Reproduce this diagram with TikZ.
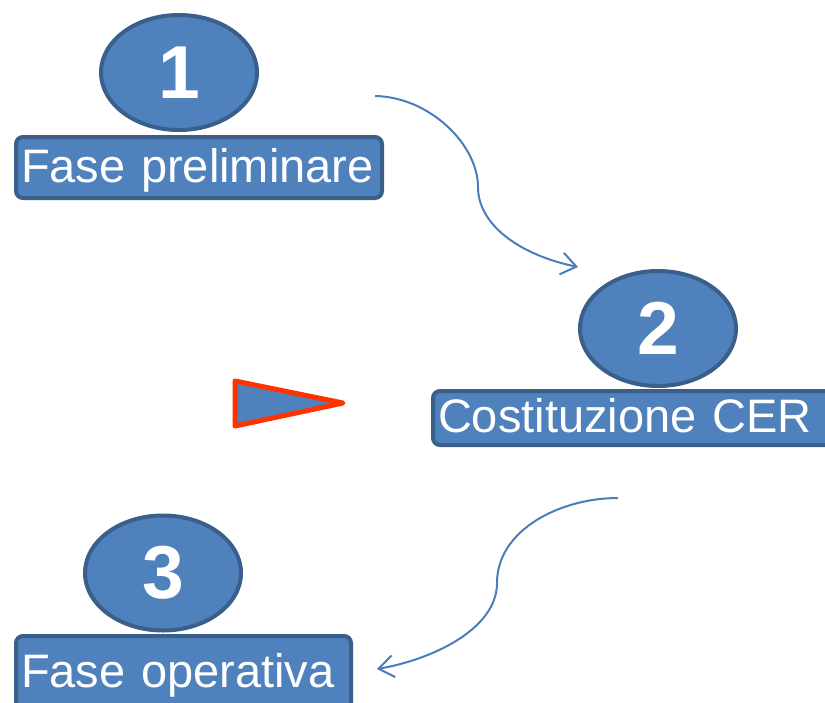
\documentclass[tikz,border=0pt]{standalone}
\usepackage{fontspec}
\setmainfont{Liberation Sans}
\usetikzlibrary{arrows.meta}
\usetikzlibrary{shapes.geometric}
\definecolor{phasefill}{HTML}{4F81BD}
\definecolor{phaseline}{HTML}{3A5F8B}
\definecolor{flowline}{HTML}{4A7EBB}
\definecolor{markred}{HTML}{FF3300}
\tikzset{num/.style = {ellipse, fill = phasefill, draw = phaseline, line width = 4, inner sep = 0, minimum width = 156, minimum height = 115, text = white, font = \fontsize{75}{80}\selectfont\bfseries}}
\tikzset{phase/.style = {rectangle, rounded corners = 7pt, fill = phasefill, draw = phaseline, line width = 4, anchor = north west, align = left, inner xsep = 5pt, inner ysep = 0pt, minimum height = 58, text height = 38pt, text depth = 9pt, text = white, font = \fontsize{47}{56}\selectfont}}
\tikzset{flow/.style = {draw = flowline, line width = 2, -{Straight Barb[length = 15pt, width = 22pt]}}}

\begin{document}
\begin{tikzpicture}[x = 1pt, y = -1pt]
          \useasboundingbox (0, 0) rectangle (825, 702);
          \node [phase, text width = 356pt, minimum height = 61] (prelim) at (14, 135) {Fase preliminare};
          \node [phase, text width = 389pt, minimum height = 54] (cer) at (431, 389) {Costituzione CER};
          \node [phase, text width = 325pt, minimum height = 74] (oper) at (14, 634) {Fase operativa};
          \node [num] (one) at (179, 72.5) {1};
          \node [num] (two) at (658, 328.5) {2};
          \node [num] (three) at (163, 573) {3};

          \draw [draw = markred, fill = phasefill, line width = 5, line join = round] (235, 381) -- (343, 403) -- (235, 426) -- cycle;

          \coordinate (s1) at (375, 96);
          \coordinate (m1) at (478, 187);
          \coordinate (e1) at (578, 267);
          \coordinate (s2) at (618, 498);
          \coordinate (m2) at (497, 583);
          \coordinate (e2) at (377, 669);
          \draw [flow] (s1) .. controls (430, 97) and (478, 145) .. (m1) .. controls (478, 225) and (520, 255) .. (e1);
          \draw [flow] (s2) .. controls (560, 498) and (497, 530) .. (m2) .. controls (497, 630) and (430, 660) .. (e2);
        \end{tikzpicture}
\end{document}
